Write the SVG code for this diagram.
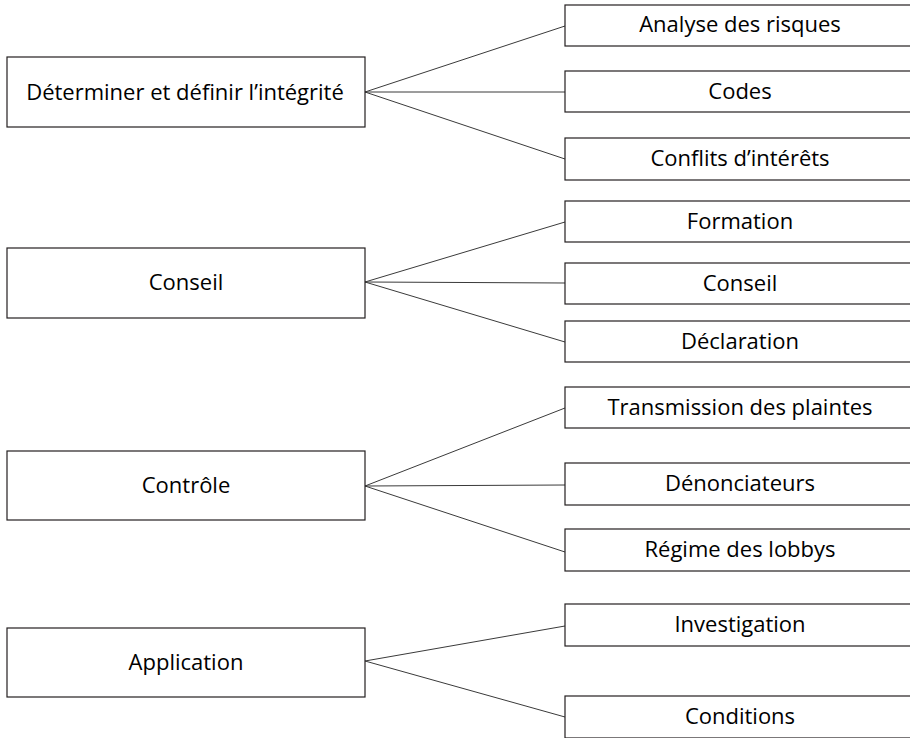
<svg xmlns="http://www.w3.org/2000/svg" width="910" height="738" viewBox="0 0 910 738">
<style>
rect{fill:#fff;stroke:#231f20;stroke-width:1.2}
text{font-family:"Open Sans","Noto Sans","Liberation Sans",sans-serif;font-size:22px;fill:#000;text-anchor:middle}
.c line{stroke:#3a3a3a;stroke-width:1}
</style>
<g class="c" id="connectors">
<line x1="365" y1="92" x2="565" y2="26"/>
<line x1="365" y1="92" x2="565" y2="92"/>
<line x1="365" y1="92" x2="565" y2="159"/>
<line x1="365" y1="282" x2="565" y2="222"/>
<line x1="365" y1="282" x2="565" y2="283"/>
<line x1="365" y1="282" x2="565" y2="342"/>
<line x1="365" y1="486" x2="565" y2="408"/>
<line x1="365" y1="486" x2="565" y2="485"/>
<line x1="365" y1="486" x2="565" y2="552"/>
<line x1="365" y1="661" x2="565" y2="626"/>
<line x1="365" y1="661" x2="565" y2="717"/>
</g>
<g id="n1"><rect x="7" y="57" width="358" height="70"/><text x="185" y="100">Déterminer et définir l’intégrité</text></g>
<g id="n2"><rect x="7" y="248" width="358" height="70"/><text x="186" y="290">Conseil</text></g>
<g id="n3"><rect x="7" y="451" width="358" height="69"/><text x="186" y="493">Contrôle</text></g>
<g id="n4"><rect x="7" y="628" width="358" height="69"/><text x="186" y="670">Application</text></g>
<g id="a1"><rect x="565" y="5" width="350" height="41"/><text x="740" y="32">Analyse des risques</text></g>
<g id="a2"><rect x="565" y="71" width="350" height="41"/><text x="740" y="99">Codes</text></g>
<g id="a3"><rect x="565" y="138" width="350" height="42"/><text x="740" y="166">Conflits d’intérêts</text></g>
<g id="b1"><rect x="565" y="201" width="350" height="41"/><text x="740" y="229">Formation</text></g>
<g id="b2"><rect x="565" y="263" width="350" height="41"/><text x="740" y="291">Conseil</text></g>
<g id="b3"><rect x="565" y="321" width="350" height="41"/><text x="740" y="349">Déclaration</text></g>
<g id="c1"><rect x="565" y="387" width="350" height="41"/><text x="740" y="415">Transmission des plaintes</text></g>
<g id="c2"><rect x="565" y="463" width="350" height="42"/><text x="740" y="491">Dénonciateurs</text></g>
<g id="c3"><rect x="565" y="529" width="350" height="42"/><text x="740" y="557">Régime des lobbys</text></g>
<g id="d1"><rect x="565" y="604" width="350" height="42"/><text x="740" y="632">Investigation</text></g>
<g id="d2"><rect x="565" y="696" width="350" height="42"/><text x="740" y="724">Conditions</text></g>
</svg>
